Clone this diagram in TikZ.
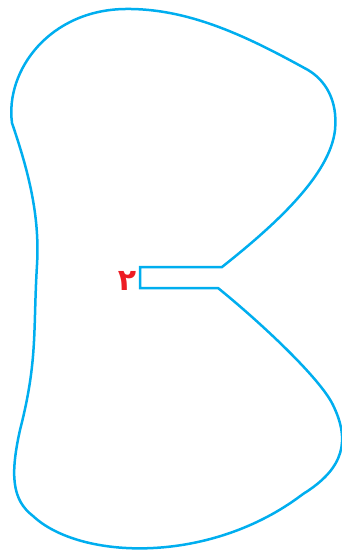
\documentclass[tikz,border=0pt]{standalone}
\usepackage{fontspec}
\usepackage{xcolor}
\usepackage{tikz}
\TeXXeTstate=1
\newfontfamily\arabicfont[Script=Arabic]{DejaVu Sans Bold}
\definecolor{shapecyan}{RGB}{0,174,239}
\definecolor{digitred}{RGB}{237,28,36}
\tikzstyle{outline} = [draw=shapecyan, line width=2.5pt, line join=miter]
\tikzstyle{digit}   = [text=digitred, font=\arabicfont\fontsize{30}{32}\selectfont,
    inner sep=0pt]

\begin{document}
\begin{tikzpicture}[x=1pt, y=-1pt]
  \useasboundingbox (0,0) rectangle (342,552);
  % outline with the slot
  \draw[outline] (222,267) .. controls (275,225) and (330,175) .. (335,130)
    .. controls (338,100) and (325,80) .. (308,70)
    .. controls (250,38) and (190,8) .. (125,9)
    .. controls (50,10) and (5,70) .. (12,123)
    .. controls (28,170) and (40,215) .. (37,265)
    .. controls (33,330) and (38,360) .. (20,430)
    .. controls (10,475) and (12,500) .. (33,516)
    .. controls (80,560) and (210,565) .. (303,494)
    .. controls (345,468) and (350,440) .. (333,405)
    .. controls (320,378) and (260,322) .. (218,288)
    -- (140,288) -- (140,267) -- cycle;
  \node[digit] (num) at (127,281) {\beginR ۲\endR};
\end{tikzpicture}
\end{document}
